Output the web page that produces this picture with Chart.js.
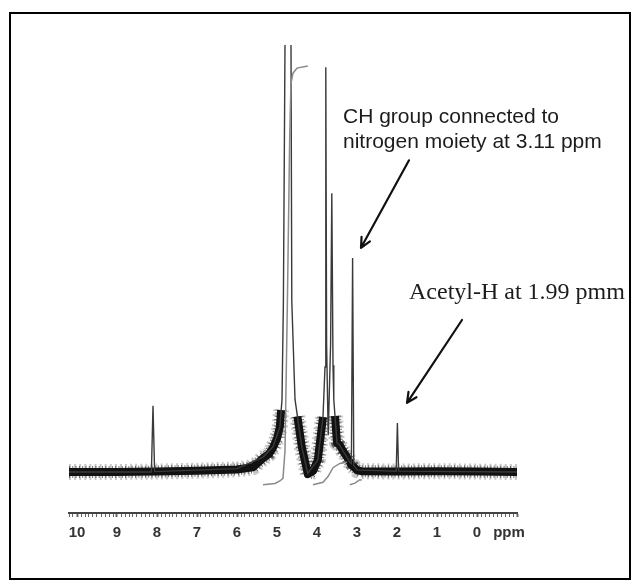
<!DOCTYPE html>
<html>
<head>
<meta charset="utf-8">
<script src="https://cdn.jsdelivr.net/npm/chart.js@4/dist/chart.umd.min.js"></script>
<style>
  html, body { margin: 0; background: #fff; }
  #frame { position: absolute; left: 9px; top: 12px; width: 618px; height: 564px; border: 2px solid #000; }
  #wrap { position: absolute; left: 0; top: 0; width: 639px; height: 588px; }
</style>
</head>
<body>
<div id="frame"></div>
<div id="wrap"><canvas id="nmr"></canvas></div>
<script>
// 1H NMR trace: chemical shift (ppm) against relative intensity
const shift = [10.2, 8.14, 8.1, 8.06, 6.0, 5.35, 5.1, 4.93, 4.875, 4.84, 4.8, 4.72, 4.65, 4.63, 4.55, 4.38, 4.23,
  3.98, 3.85, 3.8, 3.78, 3.76, 3.72, 3.66, 3.63, 3.6, 3.58, 3.5, 3.43, 3.35, 3.25, 3.18, 3.14, 3.11, 3.08, 3.0,
  2.02, 1.99, 1.96, -1.0];
const intensity = [0, 0, 15.5, 0.1, 0.8, 3.5, 5.9, 10.5, 16.9, 40, 100, 400, 100, 40, 17, 5.9, -0.3,
  2.8, 12.9, 24.6, 94.8, 30, 8.7, 30, 65.3, 25, 16.9, 6.8, 6.3, 4.9, 3.5, 2.3, 2.0, 50.1, 1.5, 0.5,
  0.2, 11.5, 0.2, 0];

// noisy baseline band, following the broad part of the signal
const bandShift = [10.2, 9, 8, 7, 6, 5.6, 5.35, 5.2, 5.1, 5.0, 4.93, 4.896, 4.72, 4.49, 4.38, 4.23, 4.1, 3.98, 3.85,
  3.7, 3.55, 3.5, 3.43, 3.35, 3.25, 3.18, 3.14, 3.08, 3.0, 2.9, 2.0, 1.0, 0, -1.0];
const bandLevel = [0, 0, 0.1, 0.3, 0.6, 1.1, 3.2, 4.2, 5.7, 7.8, 10.5, 14.5, null, 13, 5.9, -0.5, 0.2, 2.8, 12.9,
  null, 13.1, 6.8, 6.3, 4.9, 3.5, 2.3, 1.6, 1.2, 0.4, 0.2, 0.1, 0.2, 0.1, 0];

// integral steps
const integralShift = [5.35, 5.05, 4.93, 4.85, 4.8, 4.74, 4.68, 4.65, 4.6, 4.5, 4.23, 4.15,
  4.1, 3.85, 3.72, 3.6, 3.43, 3.25, 3.2, 3.18, 3.05, 2.93, 2.88];
const integralValue = [-3.0, -2.7, -2.1, -1.5, 5, 40, 80, 91, 93.4, 94.6, 95.1, null,
  -3.0, -2.4, -1.0, 1.0, 2.0, 2.3, null, -3.0, -2.6, -1.8, -1.9];

const pts = (xs, ys) => xs.map((x, i) => ({x, y: ys[i]}));
const isWhole = (v) => Math.abs(v - Math.round(v)) < 1e-6;

const arrows = [
  [[1.7, 73], [2.9, 52.5]],
  [[0.375, 35.6], [1.75, 16.2]]
];

const annotate = {
  id: 'annotate',
  afterDatasetsDraw(chart) {
    const {ctx, scales: {x, y}} = chart;
    const px = (p) => [x.getPixelForValue(p[0]), y.getPixelForValue(p[1])];
    ctx.save();
    ctx.fillStyle = '#1c1c1c';
    ctx.textBaseline = 'middle';
    ctx.font = '21px "Liberation Sans", Arial, sans-serif';
    ctx.fillText('CH group connected to', ...px([3.35, 83.1]));
    ctx.fillText('nitrogen moiety at 3.11 ppm', ...px([3.35, 77.3]));
    ctx.font = '24px "Liberation Serif", "Times New Roman", serif';
    ctx.fillText('Acetyl-H at 1.99 pmm', ...px([1.7, 41.9]));

    ctx.strokeStyle = '#111';
    ctx.lineWidth = 2.2;
    ctx.lineCap = 'round';
    for (const [from, to] of arrows) {
      const [x0, y0] = px(from);
      const [x1, y1] = px(to);
      const a = Math.atan2(y1 - y0, x1 - x0);
      ctx.beginPath();
      ctx.moveTo(x0, y0);
      ctx.lineTo(x1, y1);
      for (const d of [-0.45, 0.45]) {
        ctx.moveTo(x1, y1);
        ctx.lineTo(x1 - 11 * Math.cos(a + d), y1 - 11 * Math.sin(a + d));
      }
      ctx.stroke();
    }
    ctx.restore();
  }
};

// the baseline noise: a solid core with a faint, broken fringe
const band = (width, color, dash) => ({
  data: pts(bandShift, bandLevel),
  borderColor: color,
  borderWidth: width,
  borderDash: dash,
  borderJoinStyle: 'round',
  spanGaps: false
});

new Chart(document.getElementById('nmr'), {
  type: 'line',
  data: {
    datasets: [
      {
        data: pts(integralShift, integralValue),
        borderColor: '#8a8a8a',
        borderWidth: 1.5,
        spanGaps: false
      },
      {
        data: pts(shift, intensity),
        borderColor: '#3a3a3a',
        borderWidth: 1.4
      },
      band(8, '#111', []),
      band(12, 'rgba(0,0,0,0.55)', [1, 2.3]),
      band(16, 'rgba(0,0,0,0.22)', [2, 3.1])
    ]
  },
  options: {
    responsive: true,
    maintainAspectRatio: false,
    animation: false,
    elements: { point: { radius: 0 }, line: { tension: 0 } },
    layout: { padding: { left: 69, right: 122, top: 45, bottom: 39 } },
    plugins: { legend: { display: false }, tooltip: { enabled: false } },
    scales: {
      x: {
        type: 'linear',
        reverse: true,
        min: -1.0,
        max: 10.2,
        ticks: {
          stepSize: 0.1,
          autoSkip: false,
          maxRotation: 0,
          minRotation: 0,
          padding: 7,
          color: '#333',
          font: { family: '"Liberation Sans Narrow", "Liberation Sans", Arial, sans-serif', size: 15, weight: 'bold' },
          callback: (v) => {
            if (isWhole(v) && v > -0.5) return String(Math.round(v));
            if (Math.abs(v + 0.8) < 1e-6) return 'ppm';
            return '';
          }
        },
        grid: {
          drawOnChartArea: false,
          tickLength: 4,
          tickColor: '#666',
          tickWidth: (c) => (c.tick && isWhole(c.tick.value) ? 2 : 1)
        },
        border: { display: true, color: '#444', width: 2 }
      },
      y: {
        display: false,
        min: -9.6,
        max: 100
      }
    }
  },
  plugins: [annotate]
});
</script>
</body>
</html>
